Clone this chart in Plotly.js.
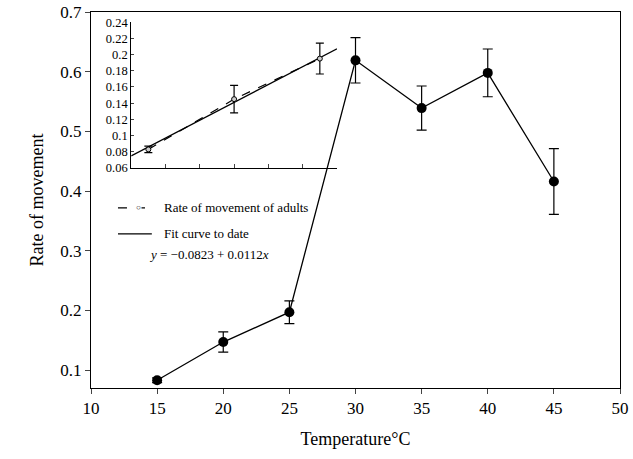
<!DOCTYPE html><html><head><script src="https://cdn.plot.ly/plotly-3.0.1.min.js"></script></head><body style="margin:0"><div id="c" style="width:633px;height:459px"></div><script>
const temps=[15,20,25,30,35,40,45];
const rate=[0.083,0.147,0.197,0.619,0.539,0.598,0.416];
const errs=[0.004,0.017,0.019,0.038,0.037,0.040,0.055];
const insetX=[0.5,3,5.5];
const insetRate=[0.083,0.145,0.195];
const insetErr=[0.004,0.017,0.019];
const fitX=[0,6];
const fitY=[0.075,0.207];
const f={family:'Liberation Serif',size:17,color:'#000'};
const data=[
{x:temps,y:rate,mode:'lines+markers',line:{color:'#000',width:1.3},marker:{color:'#000',size:10},error_y:{type:'data',array:errs,color:'#000',thickness:1.2,width:5}},
{x:fitX,y:fitY,xaxis:'x2',yaxis:'y2',mode:'lines',line:{color:'#000',width:1.2}},
{x:insetX,y:insetRate,xaxis:'x2',yaxis:'y2',mode:'lines+markers',line:{color:'#000',width:1.2,dash:'dash'},marker:{color:'#ccc',size:5,line:{color:'#000',width:1}},error_y:{type:'data',array:insetErr,color:'#000',thickness:1.2,width:4}}
];
const layout={margin:{l:91,r:13,t:12,b:71},showlegend:false,paper_bgcolor:'#fff',plot_bgcolor:'rgba(0,0,0,0)',font:f,
xaxis:{range:[10,50],dtick:5,showline:true,mirror:true,linecolor:'#000',ticks:'outside',ticklen:5,showgrid:false,zeroline:false,title:{text:'Temperature°C',font:{family:'Liberation Serif',size:18,color:'#000'},standoff:14},tickfont:f},
yaxis:{range:[0.07,0.7],dtick:0.1,tick0:0.1,tickformat:'.1f',showline:true,mirror:true,linecolor:'#000',ticks:'outside',ticklen:5,showgrid:false,zeroline:false,title:{text:'Rate of movement',font:{family:'Liberation Serif',size:18,color:'#000'},standoff:12},tickfont:f},
xaxis2:{domain:[0.076,0.465],anchor:'y2',range:[0,6],dtick:1,showticklabels:false,showline:true,linecolor:'#000',ticks:'inside',ticklen:4,showgrid:false,zeroline:false},
yaxis2:{domain:[0.585,0.973],anchor:'x2',range:[0.06,0.24],dtick:0.02,showline:true,linecolor:'#000',ticks:'inside',ticklen:3,showgrid:false,zeroline:false,tickfont:{family:'Liberation Serif',size:12.5,color:'#000'},tickformat:'~g'},
shapes:[
{type:'line',xref:'paper',yref:'paper',x0:0.051,x1:0.115,y0:0.479,y1:0.479,line:{color:'#000',width:1.2,dash:'dash'}},
{type:'line',xref:'paper',yref:'paper',x0:0.051,x1:0.115,y0:0.410,y1:0.410,line:{color:'#000',width:1.2}}],
annotations:[
{xref:'paper',yref:'paper',x:0.083,y:0.479,text:'○',showarrow:false,bgcolor:'#fff',borderpad:0,font:{size:8,color:'#000'}},
{xref:'paper',yref:'paper',x:0.134,y:0.479,xanchor:'left',text:'Rate of movement of adults',showarrow:false,font:{family:'Liberation Serif',size:13,color:'#000'}},
{xref:'paper',yref:'paper',x:0.134,y:0.410,xanchor:'left',text:'Fit curve to date',showarrow:false,font:{family:'Liberation Serif',size:13,color:'#000'}},
{xref:'paper',yref:'paper',x:0.106,y:0.354,xanchor:'left',text:'<i>y</i> = −0.0823 + 0.0112<i>x</i>',showarrow:false,font:{family:'Liberation Serif',size:13,color:'#000'}}]
};
Plotly.newPlot('c',data,layout,{displayModeBar:false});
</script></body></html>
